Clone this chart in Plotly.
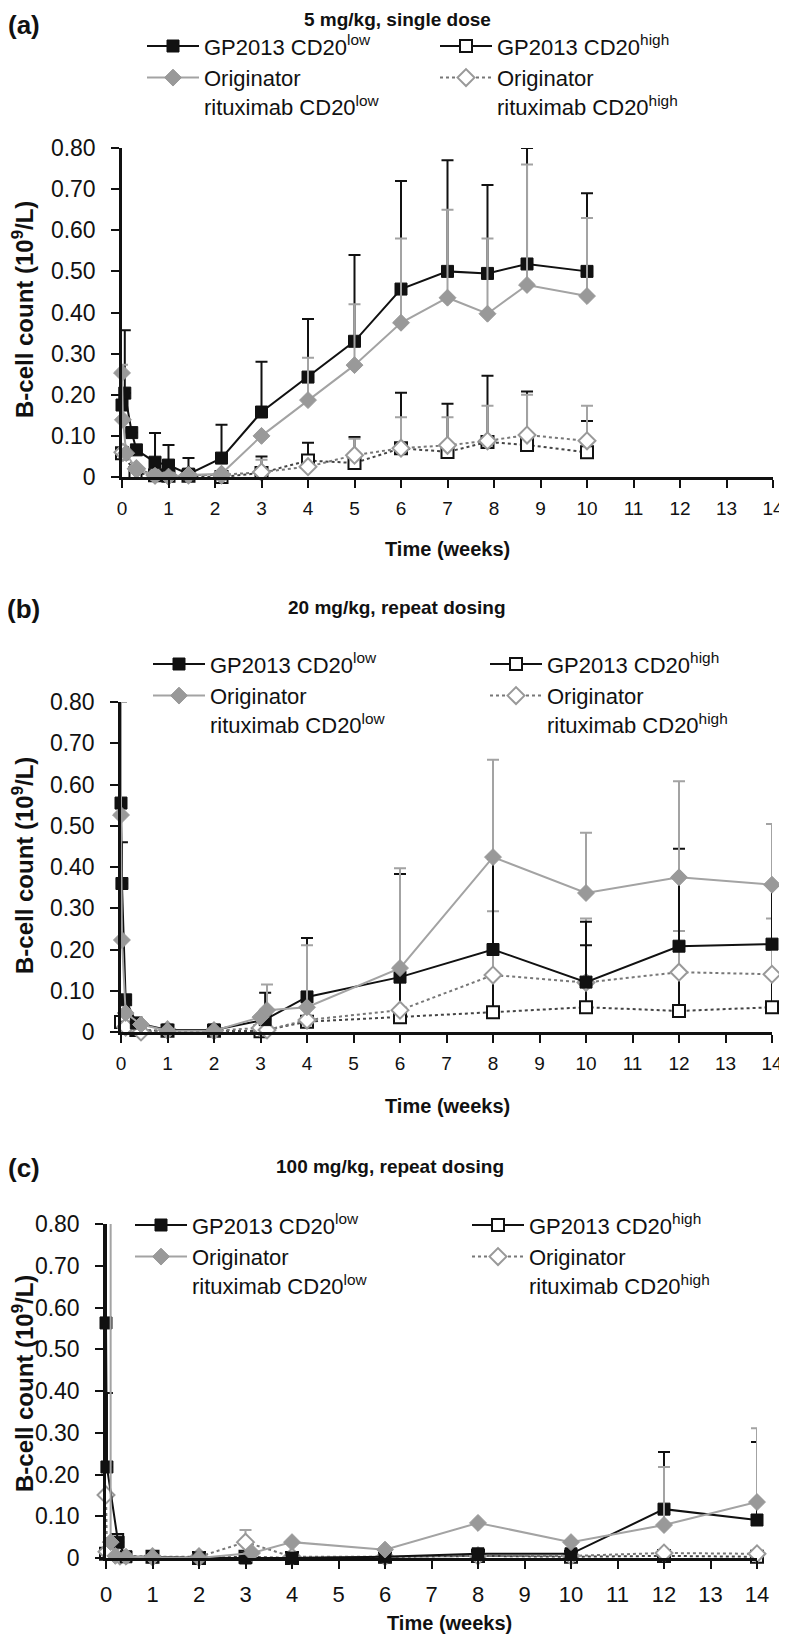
import plotly.graph_objects as go

# ---------------- data (weeks, B-cell count 10^9/L, upper SD) ----------------
# Panel (a) 5 mg/kg single dose
tA_gl = [0, 0.06, 0.21, 0.31, 0.71, 1.0, 1.43, 2.14, 3, 4, 5, 6, 7, 7.86, 8.71, 10]
vA_gl = [0.175, 0.204, 0.108, 0.066, 0.036, 0.029, 0.007, 0.046, 0.158, 0.243, 0.33, 0.457, 0.50, 0.495, 0.518, 0.50]
eA_gl = [None, 0.153, None, None, 0.071, 0.049, 0.039, 0.081, 0.122, 0.141, 0.21, 0.263, 0.27, 0.215, 0.282, 0.19]

tA_ol = [0, 0.02, 0.09, 0.31, 0.71, 1.0, 1.43, 2.14, 3, 4, 5, 6, 7, 7.86, 8.71, 10]
vA_ol = [0.253, 0.139, 0.058, 0.017, 0.003, 0.001, 0.005, 0.008, 0.10, 0.187, 0.272, 0.375, 0.436, 0.397, 0.467, 0.44]
eA_ol = [0.02, None, None, None, None, None, None, None, None, 0.103, 0.148, 0.205, 0.214, 0.183, 0.293, 0.19]

tA_gh = [0, 0.29, 0.71, 1.0, 1.43, 2.14, 3, 4, 5, 6, 7, 7.86, 8.71, 10]
vA_gh = [0.058, 0.01, 0.004, 0.003, 0.003, 0.0, 0.01, 0.04, 0.034, 0.07, 0.061, 0.085, 0.078, 0.06]
eA_gh = [None, None, None, None, None, None, 0.04, 0.043, 0.063, 0.135, 0.117, 0.161, 0.13, 0.076]

tA_oh = [0.02, 0.31, 0.71, 1.0, 1.43, 2.14, 3, 4, 5, 6, 7, 7.86, 8.71, 10]
vA_oh = [0.06, 0.02, 0.005, 0.003, 0.005, 0.005, 0.012, 0.025, 0.053, 0.07, 0.077, 0.088, 0.102, 0.088]
eA_oh = [None, None, None, None, None, None, 0.03, None, 0.04, 0.075, 0.068, 0.085, 0.098, 0.085]

# Panel (b) 20 mg/kg repeat dosing
tB_gl = [0, 0.02, 0.1, 0.33, 1, 2, 3.1, 4, 6, 8, 10, 12, 14]
vB_gl = [0.555, 0.36, 0.078, 0.022, 0.005, 0.005, 0.03, 0.085, 0.133, 0.20, 0.121, 0.208, 0.213]
eB_gl = [0.245, 0.10, None, None, None, None, 0.065, 0.143, 0.25, 0.22, 0.146, 0.236, 0.142]

tB_ol = [0, 0.02, 0.1, 0.43, 1, 2, 3, 3.14, 4, 6, 8, 10, 12, 14]
vB_ol = [0.526, 0.223, 0.046, 0.018, 0.003, 0.003, 0.036, 0.053, 0.06, 0.155, 0.424, 0.337, 0.375, 0.357]
eB_ol = [0.274, None, None, None, None, None, None, 0.062, 0.15, 0.242, 0.236, 0.146, 0.233, 0.147]

tB_gh = [0, 0.1, 0.33, 1, 2, 3, 4, 6, 8, 10, 12, 14]
vB_gh = [0.024, 0.01, 0.005, 0.003, 0.003, 0.002, 0.025, 0.036, 0.048, 0.06, 0.051, 0.06]
eB_gh = [None, None, None, None, None, None, None, 0.09, 0.14, 0.15, 0.15, 0.14]

tB_oh = [0.1, 0.43, 1, 2, 3, 3.14, 4, 6, 8, 10, 12, 14]
vB_oh = [0.012, 0.0, 0.005, 0.003, 0.01, 0.005, 0.029, 0.053, 0.138, 0.12, 0.145, 0.14]
eB_oh = [None, None, None, None, None, None, None, None, 0.155, 0.155, 0.1, 0.135]

# Panel (c) 100 mg/kg repeat dosing
tC_gl = [0, 0.02, 0.26, 0.43, 1, 2, 3, 4, 6, 8, 10, 12, 14]
vC_gl = [0.563, 0.218, 0.038, 0.003, 0.003, 0.0, 0.0, 0.0, 0.003, 0.01, 0.01, 0.117, 0.091]
eC_gl = [0.26, 0.177, None, None, None, None, None, None, None, None, None, 0.137, 0.187]

tC_ol = [0.1, 0.2, 0.43, 1, 2, 3.14, 4, 6, 8, 10, 12, 14]
vC_ol = [0.038, 0.005, 0.003, 0.002, 0.0, 0.012, 0.038, 0.02, 0.084, 0.038, 0.079, 0.134]
eC_ol = [0.79, None, None, None, None, None, None, None, None, None, 0.139, 0.177]

tC_gh = [0, 0.24, 0.43, 1, 2, 3, 4, 6, 8, 10, 12, 14]
vC_gh = [0.01, 0.043, -0.01, 0.003, 0.0, 0.003, 0.0, 0.003, 0.005, 0.003, 0.005, 0.003]
eC_gh = [None] * 12

tC_oh = [0, 0.02, 0.3, 1, 2, 3, 4, 6, 8, 10, 12, 14]
vC_oh = [0.151, 0.015, 0.005, 0.003, 0.003, 0.038, 0.003, 0.003, 0.005, 0.005, 0.012, 0.01]
eC_oh = [None, None, None, None, None, 0.029, None, None, None, None, None, None]

panel_labels = ["(a)", "(b)", "(c)"]
panel_titles = ["5 mg/kg, single dose", "20 mg/kg, repeat dosing", "100 mg/kg, repeat dosing"]
series_names = ["GP2013 CD20<sup>low</sup>", "Originator<br>rituximab CD20<sup>low</sup>",
                "GP2013 CD20<sup>high</sup>", "Originator<br>rituximab CD20<sup>high</sup>"]
x_ticks = list(range(0, 15))
y_tickvals = [0, 0.1, 0.2, 0.3, 0.4, 0.5, 0.6, 0.7, 0.8]
y_ticktext = ["0", "0.10", "0.20", "0.30", "0.40", "0.50", "0.60", "0.70", "0.80"]
x_title = "Time (weeks)"
y_title = "B-cell count (10<sup>9</sup>/L)"

# ---------------- styles ----------------
OFF = 8                      # page body margin
W, H = 787 - OFF, 1639 - OFF  # figure size so that the page fits the window
BLACK = "#111111"
GREY = "#999999"
GREYL = "#a3a3a3"
SANS = "Liberation Sans, Arial, sans-serif"

STY = {
    "gl": dict(marker=dict(symbol="square", size=12, color=BLACK, line=dict(color=BLACK, width=1)),
               line=dict(color=BLACK, width=2), ecol=BLACK),
    "ol": dict(marker=dict(symbol="diamond", size=13, color=GREY, line=dict(color=GREY, width=1)),
               line=dict(color=GREYL, width=2), ecol=GREYL),
    "gh": dict(marker=dict(symbol="square", size=12, color="white", line=dict(color=BLACK, width=2)),
               line=dict(color="#444444", width=2, dash="dot"), ecol=BLACK),
    "oh": dict(marker=dict(symbol="diamond", size=13, color="white", line=dict(color=GREY, width=2)),
               line=dict(color="#777777", width=2, dash="dot"), ecol=GREYL),
}

# page-pixel geometry of each panel: (x at 0 wk, x at 14 wk, y at 0, y at 0.80)
GEOM = [(122, 773, 477, 148), (121, 772, 1032, 702), (106, 757, 1558, 1224)]

panels = [
    dict(gl=(tA_gl, vA_gl, eA_gl), ol=(tA_ol, vA_ol, eA_ol), gh=(tA_gh, vA_gh, eA_gh), oh=(tA_oh, vA_oh, eA_oh)),
    dict(gl=(tB_gl, vB_gl, eB_gl), ol=(tB_ol, vB_ol, eB_ol), gh=(tB_gh, vB_gh, eB_gh), oh=(tB_oh, vB_oh, eB_oh)),
    dict(gl=(tC_gl, vC_gl, eC_gl), ol=(tC_ol, vC_ol, eC_ol), gh=(tC_gh, vC_gh, eC_gh), oh=(tC_oh, vC_oh, eC_oh)),
]

fig = go.Figure()
layout = dict(width=W, height=H, margin=dict(l=0, r=0, t=0, b=0, autoexpand=False),
              paper_bgcolor="white", plot_bgcolor="white", showlegend=True)


def px_x(p):
    return (p - OFF) / W


def px_y(p):
    return 1 - (p - OFF) / H


annotations = []
for i, pan in enumerate(panels):
    k = "" if i == 0 else str(i + 1)
    xa, ya = "x" + k, "y" + k
    for key in ["gh", "oh", "gl", "ol"]:
        t, v, e = pan[key]
        s = STY[key]
        fig.add_trace(go.Scatter(
            x=t, y=v, mode="lines+markers", xaxis=xa, yaxis=ya, showlegend=False,
            marker=s["marker"], line=s["line"], cliponaxis=False,
            error_y=dict(type="data", array=e, arrayminus=[0] * len(e), symmetric=False,
                         color=s["ecol"], thickness=2, width=6),
            hoverinfo="skip"))
    x0, x14, y0, y08 = GEOM[i]
    xtickfont = dict(family=SANS, size=19, color=BLACK) if i < 2 else dict(family=SANS, size=22, color=BLACK)
    layout["xaxis" + k] = dict(domain=[px_x(x0), px_x(x14)], range=[0, 14], anchor=ya,
                               tickvals=x_ticks, ticktext=[str(t) for t in x_ticks],
                               showline=True, linecolor=BLACK, linewidth=2.5, ticks="outside",
                               ticklen=8, tickwidth=2, tickcolor=BLACK, showgrid=False, zeroline=False,
                               tickfont=xtickfont, ticklabelstandoff=(4 if i < 2 else 7))
    layout["yaxis" + k] = dict(domain=[px_y(y0), px_y(y08)], range=[0, 0.8], anchor=xa,
                               tickvals=y_tickvals, ticktext=y_ticktext,
                               showline=True, linecolor=BLACK, linewidth=2.5, ticks="outside",
                               ticklen=8, tickwidth=2, tickcolor=BLACK, showgrid=False, zeroline=False,
                               tickfont=dict(family=SANS, size=23, color=BLACK), ticklabelstandoff=11)

# legends: left and right column per panel
LEG = [  # (left text x, right text x, first row center y)
    (207, 500, 46),
    (213, 550, 664),
    (195, 532, 1225),
]
LEG_FS = 22
ITEMW = 52
keys_left = ["gl", "ol"]
keys_right = ["gh", "oh"]
names = dict(gl=series_names[0], ol=series_names[1], gh=series_names[2], oh=series_names[3])
leg_line = dict(gl=dict(color=BLACK, width=2), ol=dict(color=GREYL, width=2),
                gh=dict(color=BLACK, width=2), oh=dict(color="#777777", width=2, dash="dot"))
li = 1
for i in range(3):
    lx, rx, ry = LEG[i]
    for col, (tx, keys) in enumerate([(lx, keys_left), (rx, keys_right)]):
        lname = "legend" if li == 1 else "legend" + str(li)
        for key in keys:
            fig.add_trace(go.Scatter(x=[None], y=[None], mode="lines+markers", name=names[key],
                                     marker=STY[key]["marker"], line=leg_line[key],
                                     legend=lname, showlegend=True))
        top = ry - (5 + (LEG_FS * 1.3 + 3) / 2)
        layout[lname] = dict(x=px_x(tx - 3 - (ITEMW + 10)), y=px_y(top), xanchor="left", yanchor="top",
                             bgcolor="rgba(0,0,0,0)", borderwidth=0, itemwidth=ITEMW, valign="top",
                             tracegroupgap=0, font=dict(family=SANS, size=LEG_FS, color=BLACK),
                             itemclick=False, itemdoubleclick=False)
        li += 1

# panel labels, titles, axis titles (page pixel positions)
LABEL_Y = [25, 609, 1168]
TITLE_Y = [20, 607, 1166]
TITLE_X = [397, 397, 390]
XT = [(447, 549), (447, 1106), (449, 1623)]
YT = [(23, 310), (23, 866), (23, 1384)]
for i in range(3):
    annotations.append(dict(text="<b>%s</b>" % panel_labels[i], x=px_x(24), y=px_y(LABEL_Y[i]),
                            xref="paper", yref="paper", showarrow=False, xanchor="center", yanchor="middle",
                            font=dict(family=SANS, size=26, color=BLACK)))
    annotations.append(dict(text="<b>%s</b>" % panel_titles[i], x=px_x(TITLE_X[i]), y=px_y(TITLE_Y[i]),
                            xref="paper", yref="paper", showarrow=False, xanchor="center", yanchor="middle",
                            font=dict(family=SANS, size=19, color=BLACK)))
    annotations.append(dict(text="<b>%s</b>" % x_title, x=px_x(XT[i][0]), y=px_y(XT[i][1]),
                            xref="paper", yref="paper", showarrow=False, xanchor="center", yanchor="middle",
                            font=dict(family=SANS, size=20, color=BLACK)))
    annotations.append(dict(text="<b>%s</b>" % y_title, x=px_x(YT[i][0]), y=px_y(YT[i][1]),
                            xref="paper", yref="paper", showarrow=False, xanchor="center", yanchor="middle",
                            textangle=-90, font=dict(family=SANS, size=24, color=BLACK)))

layout["annotations"] = annotations
fig.update_layout(**layout)
fig.write_html("out.html")
